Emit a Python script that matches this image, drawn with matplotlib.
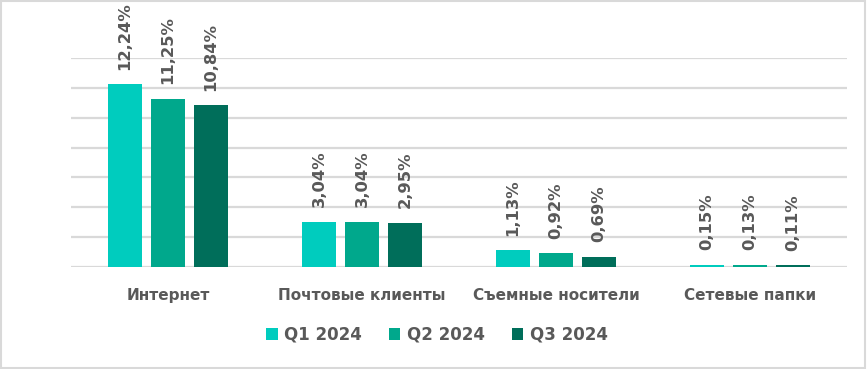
import numpy as np
import matplotlib.pyplot as plt
from matplotlib.patches import Rectangle

# data
categories = ['Интернет', 'Почтовые клиенты', 'Съемные носители', 'Сетевые папки']
series = ['Q1 2024', 'Q2 2024', 'Q3 2024']
q1 = [12.24, 3.04, 1.13, 0.15]
q2 = [11.25, 3.04, 0.92, 0.13]
q3 = [10.84, 2.95, 0.69, 0.11]
colors = ['#00CCBE', '#00A88C', '#006E5A']

fig = plt.figure(figsize=(8.67, 3.69), dpi=100)
ax = fig.add_axes([71 / 867, 1 - 267 / 369, 776 / 867, 209 / 369])

x = np.arange(len(categories))
width = 34 / 194
step = 43 / 194

for i, vals in enumerate([q1, q2, q3]):
    pos = x + (i - 1) * step
    bars = ax.bar(pos, vals, width, color=colors[i], label=series[i], zorder=3)
    for b, v in zip(bars, vals):
        ax.annotate(f'{v:.2f}%'.replace('.', ','),
                    (b.get_x() + b.get_width() / 2, v),
                    xytext=(0, 10.5), textcoords='offset points',
                    rotation=90, ha='center', va='bottom',
                    fontsize=11.8, fontweight='semibold', color='#595959', clip_on=False)

ax.set_xlim(-0.5, len(categories) - 0.5)
ax.set_ylim(0, 14)
ax.set_yticks(np.arange(0, 15, 2))
ax.yaxis.grid(True, color='#D9D9D9', linewidth=1.6, zorder=0)
ax.tick_params(axis='y', length=0, labelleft=False)
ax.set_xticks(x)
ax.set_xticklabels(categories, fontsize=11, fontweight='bold', color='#595959')
ax.tick_params(axis='x', length=0, pad=15)
for s in ax.spines.values():
    s.set_visible(False)

leg = fig.legend(loc='center', bbox_to_anchor=(437 / 867, 1 - 335 / 369), ncol=3,
                 frameon=False, fontsize=12, handlelength=0.7, handleheight=0.7,
                 handletextpad=0.4, columnspacing=1.6)
for t in leg.get_texts():
    t.set_color('#595959')
    t.set_fontweight('bold')

fig.patches.append(Rectangle((0.001, 0.002), 0.997, 0.995, transform=fig.transFigure,
                             fill=False, edgecolor='#D9D9D9', linewidth=1.5))

fig.savefig('out.png', dpi=100)
